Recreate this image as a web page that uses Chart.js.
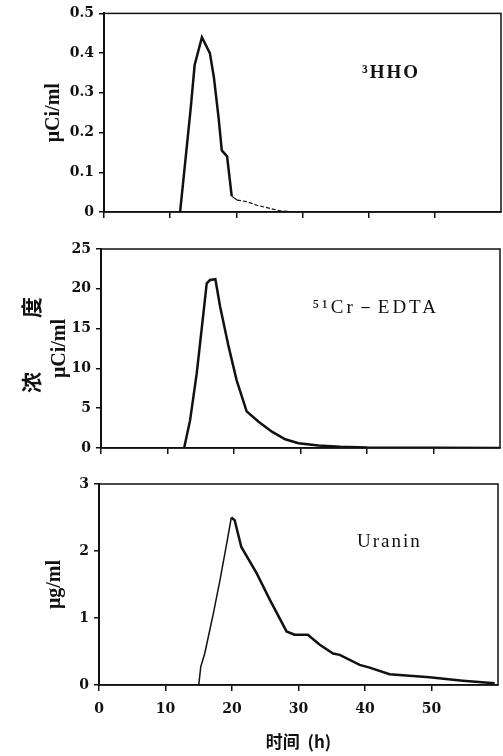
<!DOCTYPE html>
<html>
<head>
<meta charset="utf-8">
<script src="https://cdn.jsdelivr.net/npm/chart.js@4"></script>
<style>
body { margin: 0; background: #fff; }
#wrap { position: relative; width: 503px; height: 756px; overflow: hidden; }
canvas { position: absolute; left: 0; }
#nongdu {
  position: absolute; left: -33px; top: 333px; width: 120px; height: 24px;
  transform: rotate(-90deg); text-align: center; line-height: 24px;
  font: bold 21px "Noto Sans CJK SC"; color: #111;
}
</style>
</head>
<body>
<div id="wrap">
  <canvas id="hho" width="503" height="232" style="top:0px"></canvas>
  <canvas id="cr" width="503" height="236" style="top:232px"></canvas>
  <canvas id="ura" width="503" height="288" style="top:468px"></canvas>
  <div id="nongdu">浓<span style="display:inline-block;width:54px"></span>度</div>
</div>
<script>
// time axis (h)
const xTicks = [0, 10, 20, 30, 40, 50];

// 3HHO, μCi/ml
const hhoTime = [11.5, 12.3, 13.1, 13.7, 14.8, 16.0, 16.6, 17.3, 17.8, 18.6, 19.3, 20.1, 21.6, 23.1, 25.1, 26.6, 29.1];
const hhoConc = [0, 0.13, 0.26, 0.37, 0.44, 0.40, 0.34, 0.24, 0.155, 0.14, 0.04, 0.03, 0.026, 0.017, 0.009, 0.003, 0];

// 51Cr-EDTA, μCi/ml
const crTime = [12.5, 13.4, 14.4, 15.4, 15.9, 16.4, 17.2, 17.9, 19.2, 20.4, 21.9, 23.7, 25.7, 27.7, 29.7, 32.7, 36, 40, 60];
const crConc = [0, 3.5, 9.4, 16.9, 20.7, 21.1, 21.2, 17.8, 12.7, 8.5, 4.6, 3.3, 2.05, 1.1, 0.6, 0.3, 0.15, 0.05, 0];

// Uranin, μg/ml
const uraTime = [15.0, 15.3, 15.9, 17.2, 18.2, 19.2, 19.9, 20.4, 21.4, 23.7, 25.7, 28.2, 29.4, 31.4, 33.2, 35.2, 36.2, 39.2, 40.7, 43.7, 49.7, 54.7, 59.5];
const uraConc = [0, 0.27, 0.47, 1.07, 1.57, 2.11, 2.50, 2.46, 2.06, 1.67, 1.27, 0.80, 0.75, 0.75, 0.60, 0.47, 0.45, 0.30, 0.26, 0.16, 0.115, 0.065, 0.025];

const tickFont = {family: "DejaVu Serif", size: 14, weight: "bold"};
const titleFont = {family: "Liberation Serif", size: 20, weight: "bold"};

// box round the plot and the panel name
const panelPlugin = {
  id: 'panel',
  afterDatasetsDraw(chart, args, opts) {
    const {ctx, chartArea, scales} = chart;
    ctx.save();
    ctx.strokeStyle = '#111';
    ctx.lineWidth = 1.5;
    ctx.strokeRect(chartArea.left, chartArea.top, chartArea.right - chartArea.left, chartArea.bottom - chartArea.top);
    if (opts.text) {
      ctx.font = opts.font;
      ctx.letterSpacing = opts.spacing || '0px';
      ctx.fillStyle = '#111';
      ctx.textBaseline = 'middle';
      ctx.fillText(opts.text, scales.x.getPixelForValue(opts.x), scales.y.getPixelForValue(opts.y));
      ctx.letterSpacing = '0px';
    }
    ctx.restore();
  }
};
Chart.register(panelPlugin);

function makePanel(id, times, values, c) {
  const pts = times.map((t, i) => ({x: t, y: values[i]}));
  return new Chart(document.getElementById(id), {
    type: 'line',
    data: {
      datasets: [{
        data: pts,
        borderColor: '#111',
        borderWidth: 2.5,
        pointRadius: 0,
        tension: 0,
        segment: c.segment || {}
      }]
    },
    options: {
      responsive: false,
      animation: false,
      layout: {padding: {left: c.padLeft, top: c.padTop, right: c.padRight, bottom: 0}},
      plugins: {
        legend: {display: false},
        tooltip: {enabled: false},
        panel: {text: c.label, font: c.labelFont, spacing: c.labelSpacing, x: c.labelX, y: c.labelY}
      },
      scales: {
        x: {
          type: 'linear', min: 0, max: 60,
          afterBuildTicks: s => { s.ticks = xTicks.map(v => ({value: v})); },
          afterFit: s => { s.height = c.xHeight; },
          ticks: {display: c.xLabels, font: tickFont, color: '#111', padding: 10, maxRotation: 0},
          grid: {drawOnChartArea: false, drawTicks: true, tickLength: 6, color: '#111', lineWidth: 1.5},
          border: {display: true, color: '#111', width: 1.5},
          title: {
            display: c.xLabels, text: '时间  (h)', color: '#111',
            font: {family: "Noto Sans CJK SC", size: 17, weight: "bold"},
            padding: {top: 4, bottom: 4}
          }
        },
        y: {
          min: 0, max: c.yMax,
          afterFit: s => { s.width = c.yWidth; },
          ticks: {stepSize: c.yStep, font: tickFont, color: '#111', padding: 5},
          grid: {drawOnChartArea: false, drawTicks: true, tickLength: 5, color: '#111', lineWidth: 1.5},
          border: {display: true, color: '#111', width: 2},
          title: {display: true, text: c.yTitle, color: '#111', font: titleFont, padding: {top: 2, bottom: 2}}
        }
      }
    }
  });
}

makePanel('hho', hhoTime, hhoConc, {
  padLeft: 40, yWidth: 64, padTop: 11, padRight: 2, xHeight: 20, xLabels: false,
  yMax: 0.5, yStep: 0.1, yTitle: 'μCi/ml',
  label: '³HHO', labelFont: 'bold 19px "Liberation Serif"', labelSpacing: '2px', labelX: 39, labelY: 0.35,
  segment: {
    borderWidth: ctx => ctx.p0.parsed.x >= 19.3 ? 1.2 : 2.5,
    borderDash: ctx => ctx.p0.parsed.x >= 20.1 ? [4, 2] : undefined
  }
});

makePanel('cr', crTime, crConc, {
  padLeft: 46, yWidth: 55, padTop: 17, padRight: 3, xHeight: 20, xLabels: false,
  yMax: 25, yStep: 5, yTitle: 'μCi/ml',
  label: '⁵¹Cr－EDTA', labelFont: '19px "Liberation Serif"', labelSpacing: '3px', labelX: 31.8, labelY: 17.6
});

makePanel('ura', uraTime, uraConc, {
  padLeft: 41, yWidth: 58, padTop: 16, padRight: 5, xHeight: 71, xLabels: true,
  yMax: 3, yStep: 1, yTitle: 'μg/ml',
  label: 'Uranin', labelFont: '19px "Liberation Serif"', labelSpacing: '2px', labelX: 38.8, labelY: 2.13,
  segment: {
    borderWidth: ctx => ctx.p0.parsed.x < 19.9 ? 1.5 : 2.5
  }
});
</script>
</body>
</html>
